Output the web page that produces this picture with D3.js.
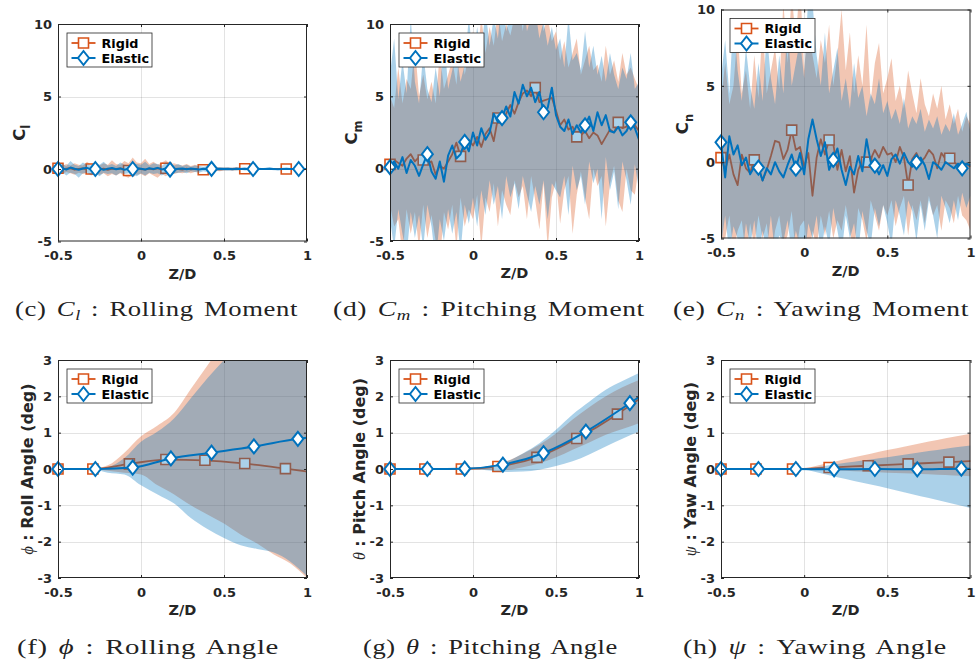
<!DOCTYPE html>
<html>
<head>
<meta charset="utf-8">
<script src="https://cdn.jsdelivr.net/npm/d3@7"></script>
<style>
  body { margin: 0; background: #fff; }
  svg { display: block; }
</style>
</head>
<body>
<svg id="fig" width="977" height="666"></svg>
<script>
// ---------- shared axes ----------
const xTicks = [-0.5, 0, 0.5, 1];
const momentTicks = [-5, 0, 5, 10];
const angleTicks = [-3, -2, -1, 0, 1, 2, 3];
const seriesNames = ["Rigid", "Elastic"];

// sample positions along Z/D for the moment histories (step 0.025)
const xGrid = d3.range(61).map(i => -0.5 + i * 0.025);
const rigidMarkerIdx = [0, 8, 17, 26, 35, 45, 55];
const elasticMarkerIdx = [0, 9, 18, 27, 37, 47, 58];

// ---------- C_l : rolling moment ----------
const clRigid = [
  0.05, -0.03, 0.02, 0.06, -0.05, 0.0, 0.04, -0.02, 0.0, 0.03,
  -0.04, 0.02, -0.06, 0.03, 0.0, 0.05, -0.03, -0.1, -0.02, 0.04,
  0.0, -0.05, 0.03, -0.02, 0.06, 0.0, 0.05, -0.03, 0.02, 0.0,
  -0.04, 0.02, -0.02, 0.01, 0.0, -0.05, -0.03, 0.0, 0.01, -0.02,
  0.0, 0.01, 0.0, 0.02, 0.0, 0.02, 0.0, 0.01, 0.0, 0.0,
  0.01, 0.0, 0.0, 0.0, 0.0, 0.0, 0.0, 0.0, 0.0, 0.0,
  0.0];
const clElastic = [
  0.0, 0.06, -0.04, 0.1, 0.02, -0.05, 0.03, 0.08, -0.03, 0.0,
  0.05, -0.06, 0.02, 0.07, -0.02, 0.04, -0.05, 0.02, 0.0, 0.06,
  0.02, -0.04, 0.05, 0.0, 0.08, -0.03, 0.03, -0.05, -0.04, 0.02,
  0.04, -0.02, 0.03, 0.0, -0.03, 0.02, 0.0, 0.01, -0.02, 0.02,
  0.0, 0.01, -0.01, 0.02, 0.0, 0.01, 0.0, 0.0, 0.01, 0.0,
  0.0, 0.01, 0.0, -0.01, 0.0, 0.01, 0.0, 0.0, 0.0, 0.0,
  0.0];
const clRigidHi = [
  0.3, 0.2, 0.35, 0.25, 0.4, 0.3, 0.25, 0.5, 0.3, 0.35,
  0.25, 0.4, 0.3, 0.6, 0.35, 0.3, 0.55, 0.4, 0.8, 0.45,
  0.4, 0.7, 0.35, 0.5, 0.3, 0.45, 0.6, 0.35, 0.4, 0.3,
  0.25, 0.35, 0.2, 0.3, 0.2, 0.25, 0.15, 0.2, 0.15, 0.12,
  0.1, 0.12, 0.08, 0.1, 0.08, 0.1, 0.06, 0.08, 0.05, 0.06,
  0.05, 0.06, 0.04, 0.05, 0.04, 0.05, 0.04, 0.04, 0.03, 0.04,
  0.03];
const clRigidLo = [
  -0.25, -0.35, -0.2, -0.3, -0.4, -0.25, -0.35, -0.3, -0.45, -0.3,
  -0.4, -0.3, -0.5, -0.35, -0.45, -0.3, -0.5, -0.6, -0.35, -0.4,
  -0.35, -0.5, -0.3, -0.45, -0.6, -0.35, -0.5, -0.3, -0.35, -0.25,
  -0.3, -0.2, -0.3, -0.2, -0.15, -0.25, -0.2, -0.15, -0.12, -0.15,
  -0.1, -0.08, -0.12, -0.08, -0.1, -0.06, -0.08, -0.06, -0.05, -0.06,
  -0.05, -0.04, -0.05, -0.04, -0.05, -0.03, -0.04, -0.03, -0.04, -0.03,
  -0.03];
const clElasticHi = [
  0.25, 0.35, 0.2, 0.55, 0.3, 0.2, 0.45, 0.3, 0.25, 0.4,
  0.3, 0.5, 0.25, 0.35, 0.2, 0.45, 0.3, 0.25, 0.4, 0.35,
  0.3, 0.5, 0.25, 0.4, 0.35, 0.2, 0.45, 0.3, 0.25, 0.35,
  0.2, 0.3, 0.15, 0.25, 0.2, 0.15, 0.2, 0.12, 0.15, 0.1,
  0.12, 0.08, 0.1, 0.12, 0.08, 0.1, 0.06, 0.1, 0.08, 0.06,
  0.08, 0.12, 0.06, 0.05, 0.08, 0.05, 0.06, 0.04, 0.05, 0.04,
  0.04];
const clElasticLo = [
  -0.3, -0.2, -0.45, -0.25, -0.35, -0.6, -0.3, -0.25, -0.4, -0.3,
  -0.5, -0.25, -0.35, -0.3, -0.45, -0.25, -0.35, -0.3, -0.4, -0.5,
  -0.3, -0.45, -0.25, -0.35, -0.3, -0.45, -0.3, -0.4, -0.3, -0.25,
  -0.2, -0.3, -0.15, -0.2, -0.25, -0.15, -0.2, -0.1, -0.15, -0.1,
  -0.1, -0.12, -0.08, -0.1, -0.06, -0.1, -0.08, -0.06, -0.08, -0.05,
  -0.06, -0.05, -0.08, -0.04, -0.05, -0.06, -0.04, -0.05, -0.04, -0.04,
  -0.04];

// ---------- C_m : pitching moment ----------
const cmRigid = [
  0.3, 0.6, 0.4, 0.2, 0.7, 1.0, 0.5, 0.8, 0.6, 0.4,
  0.5, -0.4, 0.2, 0.0, 0.5, 1.0, 1.8, 0.85, 1.5, 2.0,
  1.6, 2.2, 1.5, 2.4, 2.8, 1.9, 3.5, 3.4, 3.8, 4.4,
  3.8, 4.6, 5.2, 5.4, 5.0, 5.6, 4.6, 4.7, 4.8, 4.9,
  4.0, 3.0, 3.4, 2.7, 2.9, 2.2, 2.3, 2.6, 2.1, 2.5,
  2.3, 1.7, 2.2, 2.7, 2.5, 3.2, 2.8, 2.9, 3.6, 3.0,
  2.6];
const cmElastic = [
  0.1, 0.5, 0.0, 0.8, -0.3, 0.6, 0.2, -0.5, 0.3, 1.0,
  -0.2, -0.7, 0.5, -0.9, 0.9, 1.6, 0.7, 1.0, 1.85, 1.2,
  2.5, 1.6, 2.8, 2.0, 2.5, 3.8, 3.2, 3.5, 4.3, 3.6,
  5.3, 4.5, 5.8, 5.0, 5.6, 4.6, 5.3, 3.9, 4.2, 5.6,
  3.7, 2.9, 2.6, 3.4, 2.4, 3.0, 2.5, 3.0, 3.6, 2.6,
  3.9, 3.0, 3.7, 2.6, 2.5, 2.9, 2.3, 2.6, 3.2, 2.8,
  2.0];
const cmRigidHi = [
  5.0, 4.2, 7.0, 4.5, 6.2, 5.5, 8.5, 5.0, 6.5, 4.8,
  6.0, 4.5, 8.0, 5.5, 6.5, 7.5, 5.8, 9.0, 6.5, 8.0,
  9.5, 7.5, 10.5, 8.0, 9.8, 8.5, 11.0, 8.8, 10.0, 9.2,
  10.5, 11.5, 9.5, 12.0, 10.0, 10.8, 11.5, 9.5, 10.5, 8.8,
  9.5, 7.5, 8.8, 7.0, 8.0, 9.0, 6.5, 7.5, 8.5, 6.8,
  7.2, 6.0, 8.5, 6.5, 7.5, 6.0, 8.0, 6.5, 7.0, 6.2,
  5.5];
const cmRigidLo = [
  -2.5, -4.0, -3.5, -6.0, -2.8, -4.5, -3.0, -5.5, -2.5, -4.8,
  -3.2, -5.0, -6.5, -3.0, -4.2, -2.5, -5.5, -2.0, -4.0, -2.8,
  -3.5, -1.8, -5.5, -2.0, -3.0, -1.0, -4.0, -1.5, -2.5, -3.2,
  -0.8, -2.0, -1.2, -3.5, -0.5, -2.2, -4.2, -1.0, -5.5, -2.0,
  -0.8, -3.8, -1.5, -0.5, -4.5, -1.8, -0.2, -2.0, -3.5, 0.0,
  -1.2, -0.5, -4.0, -1.0, 0.2, -2.2, -3.0, 0.0, -1.5, -1.8,
  0.2];
const cmElasticHi = [
  6.5, 9.0, 4.8, 7.5, 5.2, 10.5, 6.0, 4.5, 8.0, 5.5,
  4.6, 7.0, 5.0, 9.5, 5.5, 6.8, 8.0, 6.0, 7.2, 10.5,
  7.5, 9.8, 8.0, 11.0, 8.5, 10.5, 9.0, 12.0, 9.5, 10.8,
  11.5, 10.0, 12.0, 9.5, 10.5, 11.0, 9.0, 10.2, 8.5, 9.8,
  8.2, 9.0, 7.0, 10.5, 7.5, 8.0, 6.8, 9.5, 7.0, 8.5,
  6.5, 7.8, 6.0, 8.0, 6.5, 5.5, 7.0, 6.2, 8.0, 5.5,
  6.0];
const cmElasticLo = [
  -3.5, -5.5, -2.8, -4.5, -6.0, -3.0, -4.8, -3.2, -5.5, -2.5,
  -4.0, -6.5, -3.5, -5.0, -2.8, -4.5, -3.0, -5.8, -2.5, -3.8,
  -2.0, -4.0, -1.5, -3.2, -0.8, -2.5, -1.2, -3.5, -0.5, -2.0,
  -1.0, -2.8, -0.5, -1.8, -3.0, -1.2, -2.5, -0.8, -3.5, -1.0,
  -1.5, -2.0, -0.5, -3.2, 0.2, -1.5, -0.5, -2.5, 0.5, -1.0,
  0.0, -3.5, 0.8, -1.5, -0.2, -2.8, 0.5, -0.8, -2.5, 0.3,
  -1.5];

// ---------- C_n : yawing moment ----------
const cnRigid = [
  0.3, -0.5, 0.5, -0.8, -1.5, 0.5, -0.4, -0.7, 0.15, -0.3,
  -1.2, -0.5, 0.4, 1.4, 1.3, 0.2, 0.8, 2.1, 0.8, 1.0,
  -0.3, 0.6, -2.2, 0.3, 1.5, 0.5, 1.45, 1.2, -0.5, 0.8,
  -0.6, 0.4, -2.0, -0.5, 0.1, 0.0, 0.2, 0.8, 0.3, 1.0,
  0.5, 0.6, 0.0, 1.0, 0.3, -1.5, 0.2, 0.6, 0.0, 0.3,
  0.8, 0.5, -0.4, 0.6, 0.2, 0.26, 0.0, -0.2, -0.3, -0.1,
  -0.3];
const cnElastic = [
  1.3, -1.0, 1.7, 0.5, 1.1, -0.2, 0.3, -0.8, -0.3, -0.35,
  -1.2, -0.4, -0.8, 0.0, -0.6, -1.0, -0.2, 0.5, -0.43, 0.6,
  -0.8, 1.5, 2.8, 1.5, 0.4, 1.3, -0.5, 0.15, 0.9, -0.5,
  -1.5, -0.3, -0.8, 0.4, -0.6, 1.5, 0.0, -0.22, -0.8, -0.2,
  -0.9, 0.2, 0.5, -0.1, 0.6, 0.0, -0.3, 0.0, 0.3, -0.2,
  -1.1, 0.0, -0.2, -0.5, 0.0, -0.2, -0.4, -0.1, -0.4, -0.1,
  -0.2];
const cnRigidHi = [
  4.0, 6.5, 3.8, 5.0, 8.5, 4.5, 6.0, 3.5, 7.0, 4.2,
  9.0, 4.5, 6.0, 7.5, 4.8, 10.5, 6.5, 11.0, 8.0, 12.0,
  6.0, 9.5, 7.0, 5.5, 8.0, 6.5, 9.0, 5.0, 7.0, 10.0,
  6.0, 8.5, 4.5, 7.0, 5.0, 9.0, 4.0, 6.5, 7.8, 4.5,
  5.5, 6.8, 4.0, 5.0, 3.5, 6.0, 4.5, 3.2, 5.5, 3.8,
  3.0, 4.5, 3.5, 5.0, 2.8, 3.8, 2.5, 3.5, 2.0, 3.0,
  2.5];
const cnRigidLo = [
  -6.0, -5.0, -3.5, -5.8, -4.5, -3.8, -6.2, -4.0, -5.5, -3.5,
  -5.0, -4.0, -6.5, -4.5, -3.5, -5.5, -4.8, -3.2, -6.0, -4.2,
  -3.8, -6.5, -4.5, -5.5, -3.5, -4.8, -3.2, -5.0, -3.8, -4.5,
  -2.8, -4.5, -6.0, -3.0, -3.8, -5.2, -2.5, -3.5, -4.5, -2.8,
  -3.5, -2.5, -4.2, -3.0, -2.2, -4.8, -2.8, -3.8, -2.5, -4.0,
  -2.2, -3.5, -2.8, -4.5, -2.5, -3.0, -4.0, -2.2, -3.5, -3.8,
  -4.5];
const cnElasticHi = [
  5.5, 8.0, 4.5, 9.5, 6.0, 4.0, 7.5, 5.0, 3.5, 6.5,
  4.0, 8.5, 5.5, 3.8, 7.0, 4.5, 9.0, 5.0, 6.5, 8.0,
  5.5, 11.0, 10.5, 7.0, 5.0, 8.5, 4.5, 6.0, 7.5, 4.0,
  5.5, 3.5, 6.5, 4.2, 5.0, 3.0, 4.5, 3.8, 5.5, 3.2,
  4.0, 2.8, 3.5, 2.5, 4.2, 2.2, 3.0, 2.5, 3.5, 2.0,
  2.8, 2.2, 3.0, 1.8, 2.5, 2.0, 3.2, 1.8, 2.5, 3.3,
  2.0];
const cnElasticLo = [
  -5.5, -3.5, -6.0, -4.2, -5.0, -6.5, -4.0, -5.5, -3.8, -6.0,
  -4.5, -5.8, -3.5, -6.0, -4.8, -5.2, -3.8, -6.0, -4.5, -5.5,
  -6.5, -4.0, -5.0, -3.5, -6.0, -4.2, -5.5, -3.0, -4.5, -6.0,
  -3.5, -5.0, -4.0, -6.0, -3.2, -4.5, -5.5, -3.0, -4.2, -2.8,
  -4.0, -5.5, -2.5, -3.5, -4.8, -2.5, -3.2, -5.2, -2.8, -4.5,
  -2.5, -3.5, -5.0, -2.2, -3.0, -4.0, -2.5, -3.8, -2.0, -3.0,
  -2.2];

// ---------- attitude angles (deg) ----------
// curve knots; the first seven carry markers
const rigidKnotX = [-0.5, -0.29, -0.07, 0.15, 0.385, 0.625, 0.87, 1.0];
const elasticKnotX = [-0.5, -0.275, -0.05, 0.18, 0.425, 0.68, 0.945, 1.0];
const angleMarkerIdx = [0, 1, 2, 3, 4, 5, 6];
const bandX = [-0.5, -0.4, -0.3, -0.2, -0.1, 0, 0.1, 0.2, 0.3, 0.4, 0.5, 0.6, 0.7, 0.8, 0.9, 1.0];

const rollRigid = [0, 0, 0.14, 0.26, 0.24, 0.15, 0.01, -0.07];
const rollElastic = [0, 0, 0.04, 0.29, 0.45, 0.62, 0.83, 0.86];
const rollRigidHi = [0, 0, 0, 0.1, 0.45, 0.9, 1.2, 1.55, 2.2, 2.85, 3.5, 4.1, 4.6, 5.0, 5.4, 5.8];
const rollRigidLo = [0, 0, 0, -0.05, -0.1, -0.15, -0.45, -0.7, -1.0, -1.25, -1.5, -1.8, -2.05, -2.35, -2.6, -3.0];
const rollElasticHi = [0, 0, 0, 0.05, 0.3, 0.75, 1.03, 1.4, 1.95, 2.5, 3.0, 3.5, 3.9, 4.3, 4.7, 5.0];
const rollElasticLo = [0, 0, 0, -0.1, -0.15, -0.45, -0.7, -0.95, -1.35, -1.65, -1.9, -2.1, -2.2, -2.3, -2.55, -2.95];

const pitchRigid = [0, 0, 0, 0.07, 0.32, 0.84, 1.51, 1.92];
const pitchElastic = [0, 0, 0.01, 0.12, 0.44, 1.03, 1.81, 1.98];
const pitchRigidHi = [0, 0, 0, 0, 0, 0.01, 0.08, 0.21, 0.42, 0.67, 0.98, 1.36, 1.7, 2.0, 2.25, 2.45];
const pitchRigidLo = [0, 0, 0, 0, 0, -0.01, -0.02, -0.02, 0.05, 0.16, 0.32, 0.53, 0.73, 0.94, 1.1, 1.26];
const pitchElasticHi = [0, 0, 0, 0, 0, 0.01, 0.08, 0.2, 0.43, 0.71, 1.08, 1.5, 1.85, 2.18, 2.42, 2.64];
const pitchElasticLo = [0, 0, 0, 0, 0, -0.01, -0.04, -0.08, -0.07, -0.02, 0.08, 0.21, 0.4, 0.62, 0.83, 1.03];

const yawRigid = [0, 0, 0, 0.04, 0.09, 0.14, 0.19, 0.22];
const yawElastic = [0, 0, 0, -0.01, 0, -0.01, 0.01, 0.01];
const yawRigidHi = [0, 0, 0, 0, 0, 0.02, 0.12, 0.22, 0.32, 0.42, 0.52, 0.61, 0.71, 0.8, 0.89, 0.97];
const yawRigidLo = [0, 0, 0, 0, 0, -0.01, -0.02, -0.04, -0.06, -0.08, -0.1, -0.12, -0.14, -0.16, -0.18, -0.2];
const yawElasticHi = [0, 0, 0, 0, 0, 0.01, 0.07, 0.14, 0.2, 0.26, 0.32, 0.39, 0.46, 0.52, 0.59, 0.65];
const yawElasticLo = [0, 0, 0, 0, 0, -0.02, -0.12, -0.23, -0.33, -0.43, -0.53, -0.64, -0.75, -0.85, -0.96, -1.07];

// ---------- styling ----------
const RIGID = "#D95319", ELASTIC = "#0072BD", INK = "#262626";
const SANS = "'DejaVu Sans', Verdana, sans-serif";
const SERIF = "'Liberation Serif', 'Times New Roman', serif";
const squarePath = "M-5,-5H5V5H-5Z";
const diamondPath = "M0,-7L5.5,0L0,7L-5.5,0Z";

const svg = d3.select("#fig");
const defs = svg.append("defs");

function moment(id, box, ylab, sub, caption, capBox, rr, re) {
  return { id, box, kind: "moment", yDomain: [-5, 10], yTicks: momentTicks, ylab, sub, caption, capBox,
    rigid: { bx: xGrid, lo: rr[1], hi: rr[2], lx: xGrid, ly: rr[0], mIdx: rigidMarkerIdx },
    elastic: { bx: xGrid, lo: re[1], hi: re[2], lx: xGrid, ly: re[0], mIdx: elasticMarkerIdx } };
}
function angle(id, box, sym, ylab, caption, capBox, rr, re) {
  return { id, box, kind: "angle", yDomain: [-3, 3], yTicks: angleTicks, sym, ylab, caption, capBox,
    rigid: { bx: bandX, lo: rr[1], hi: rr[2], lx: rigidKnotX, ly: rr[0], mIdx: angleMarkerIdx },
    elastic: { bx: bandX, lo: re[1], hi: re[2], lx: elasticKnotX, ly: re[0], mIdx: angleMarkerIdx } };
}

const panels = [
  moment("c", { l: 58, r: 307, t: 24, b: 241.5 }, "C", "l", ["(c) ", "C", "l", " : Rolling Moment"], { cx: 156.5, y: 316, w: 283 },
    [clRigid, clRigidLo, clRigidHi], [clElastic, clElasticLo, clElasticHi]),
  moment("d", { l: 390, r: 639, t: 24, b: 241 }, "C", "m", ["(d) ", "C", "m", " : Pitching Moment"], { cx: 489, y: 316, w: 312 },
    [cmRigid, cmRigidLo, cmRigidHi], [cmElastic, cmElasticLo, cmElasticHi]),
  moment("e", { l: 721, r: 970.5, t: 9.5, b: 238.5 }, "C", "n", ["(e) ", "C", "n", " : Yawing Moment"], { cx: 821, y: 316, w: 296 },
    [cnRigid, cnRigidLo, cnRigidHi], [cnElastic, cnElasticLo, cnElasticHi]),
  angle("f", { l: 58, r: 307, t: 360, b: 578 }, "ϕ", "Roll Angle (deg)", ["(f) ", "ϕ", "", " : Rolling Angle"], { cx: 148, y: 654, w: 262 },
    [rollRigid, rollRigidLo, rollRigidHi], [rollElastic, rollElasticLo, rollElasticHi]),
  angle("g", { l: 390, r: 639, t: 360, b: 578 }, "θ", "Pitch Angle (deg)", ["(g) ", "θ", "", " : Pitching Angle"], { cx: 490.5, y: 654, w: 255 },
    [pitchRigid, pitchRigidLo, pitchRigidHi], [pitchElastic, pitchElasticLo, pitchElasticHi]),
  angle("h", { l: 721, r: 970.5, t: 360, b: 578 }, "ψ", "Yaw Angle (deg)", ["(h) ", "ψ", "", " : Yawing Angle"], { cx: 815, y: 654, w: 264 },
    [yawRigid, yawRigidLo, yawRigidHi], [yawElastic, yawElasticLo, yawElasticHi])
];

function drawPanel(p) {
  const { l, r, t, b } = p.box;
  const x = d3.scaleLinear().domain([-0.5, 1]).range([l, r]);
  const y = d3.scaleLinear().domain(p.yDomain).range([b, t]);
  const curve = p.kind === "angle" ? d3.curveMonotoneX : d3.curveLinear;
  const g = svg.append("g").attr("class", "panel-" + p.id);

  const clipId = "clip-" + p.id;
  defs.append("clipPath").attr("id", clipId)
    .append("rect").attr("x", l).attr("y", t).attr("width", r - l).attr("height", b - t);

  // grid
  const grid = g.append("g").attr("stroke", INK).attr("stroke-opacity", 0.13).attr("stroke-width", 1);
  grid.selectAll(".gx").data(xTicks.slice(1, -1)).join("line")
    .attr("x1", d => Math.round(x(d)) + 0.5).attr("x2", d => Math.round(x(d)) + 0.5).attr("y1", t).attr("y2", b);
  grid.selectAll(".gy").data(p.yTicks.slice(1, -1)).join("line")
    .attr("y1", d => Math.round(y(d)) + 0.5).attr("y2", d => Math.round(y(d)) + 0.5).attr("x1", l).attr("x2", r);

  const styles = [
    { s: p.rigid, color: RIGID, lw: 1.8, shape: squarePath, mw: 1.6 },
    { s: p.elastic, color: ELASTIC, lw: 2, shape: diamondPath, mw: 2 }
  ];
  styles.forEach(({ s, color, lw, shape, mw }) => {
    const clipped = g.append("g").attr("clip-path", `url(#${clipId})`);
    const area = d3.area().x(i => x(s.bx[i])).y0(i => y(s.lo[i])).y1(i => y(s.hi[i])).curve(curve);
    clipped.append("path").attr("d", area(d3.range(s.bx.length)))
      .attr("fill", color).attr("fill-opacity", 0.33).attr("stroke", "none");
    const line = d3.line().x(i => x(s.lx[i])).y(i => y(s.ly[i])).curve(curve);
    clipped.append("path").attr("d", line(d3.range(s.lx.length)))
      .attr("fill", "none").attr("stroke", color).attr("stroke-width", lw).attr("stroke-linejoin", "round");
    g.append("g").selectAll("path").data(s.mIdx).join("path")
      .attr("transform", i => `translate(${x(s.lx[i])},${y(s.ly[i])})`)
      .attr("d", shape).attr("fill", "#fff").attr("stroke", color).attr("stroke-width", mw);
  });

  // axes (ticks point inward, labels on left/bottom only)
  const fmt = d => String(d);
  const axB = g.append("g").attr("transform", `translate(0,${b})`)
    .call(d3.axisBottom(x).tickValues(xTicks).tickSize(-3).tickFormat(fmt));
  const axT = g.append("g").attr("transform", `translate(0,${t})`)
    .call(d3.axisTop(x).tickValues(xTicks).tickSize(-3).tickFormat(""));
  const axL = g.append("g").attr("transform", `translate(${l},0)`)
    .call(d3.axisLeft(y).tickValues(p.yTicks).tickSize(-3).tickFormat(fmt));
  const axR = g.append("g").attr("transform", `translate(${r},0)`)
    .call(d3.axisRight(y).tickValues(p.yTicks).tickSize(-3).tickFormat(""));
  [axB, axT, axL, axR].forEach(a => {
    a.select(".domain").remove();
    a.selectAll("line").attr("stroke", INK);
    a.selectAll("text").attr("fill", INK).style("font-family", SANS).style("font-weight", "bold").style("font-size", "13px");
  });
  axB.selectAll("text").attr("y", 18.5).attr("dy", "0");
  axL.selectAll("text").attr("x", -6).attr("dy", "0.32em");

  g.append("rect").attr("x", l + 0.5).attr("y", t + 0.5).attr("width", r - l - 1).attr("height", b - t - 1)
    .attr("fill", "none").attr("stroke", INK).attr("stroke-width", 1);

  // axis titles
  g.append("text").attr("x", (l + r) / 2).attr("y", b + 37).attr("text-anchor", "middle")
    .attr("fill", INK).style("font-family", SANS).style("font-weight", "bold").style("font-size", "14.5px").text("Z/D");

  const ym = (t + b) / 2;
  if (p.kind === "moment") {
    const yl = g.append("text").attr("transform", `translate(${l - 33},${ym}) rotate(-90)`).attr("text-anchor", "middle")
      .attr("fill", INK).style("font-family", SANS).style("font-weight", "bold").style("font-size", "16.5px");
    yl.append("tspan").text(p.ylab);
    yl.append("tspan").attr("dy", 5).style("font-size", "11.5px").text(p.sub);
  } else {
    const yl = g.append("text").attr("transform", `translate(${l - 25},${ym}) rotate(-90)`).attr("text-anchor", "middle")
      .attr("fill", INK).style("font-family", SANS).style("font-weight", "bold").style("font-size", "16px");
    yl.append("tspan").style("font-family", SERIF).style("font-style", "italic").style("font-weight", "normal").text(p.sym);
    yl.append("tspan").text(" : " + p.ylab);
  }

  // legend
  const lx0 = l + 8.5, ly0 = t + 8.5;
  const lg = g.append("g").attr("transform", `translate(${lx0},${ly0})`);
  lg.append("rect").attr("x", 0.5).attr("y", 0.5).attr("width", 85).attr("height", 34)
    .attr("fill", "#fff").attr("stroke", INK).attr("stroke-width", 0.8);
  styles.forEach(({ color, lw, shape, mw }, k) => {
    const ry = 10.5 + k * 15;
    lg.append("line").attr("x1", 5).attr("x2", 29).attr("y1", ry).attr("y2", ry).attr("stroke", color).attr("stroke-width", lw);
    lg.append("path").attr("transform", `translate(17,${ry})`).attr("d", shape).attr("fill", "#fff").attr("stroke", color).attr("stroke-width", mw);
    lg.append("text").attr("x", 35).attr("y", ry).attr("dy", "0.36em").attr("fill", "#000")
      .style("font-family", SANS).style("font-weight", "bold").style("font-size", "12.8px").text(seriesNames[k]);
  });

  // caption, widened to its slot
  const cg = svg.append("g");
  const ct = cg.append("text").attr("x", 0).attr("y", 0).attr("text-anchor", "middle").attr("fill", "#222")
    .style("font-family", SERIF).style("font-size", "22px")
    .style("letter-spacing", "0.5px").style("word-spacing", "2.5px");
  const [pre, sym, sub, post] = p.caption;
  ct.append("tspan").text(pre);
  ct.append("tspan").style("font-style", "italic").text(sym);
  if (sub) {
    ct.append("tspan").style("font-style", "italic").style("font-size", "15px").attr("dy", 4).text(sub);
    ct.append("tspan").attr("dy", -4).text(post);
  } else {
    ct.append("tspan").text(post);
  }
  const natural = ct.node().getComputedTextLength();
  const sx = natural > 0 ? p.capBox.w / natural : 1;
  cg.attr("transform", `translate(${p.capBox.cx},${p.capBox.y}) scale(${sx},1)`);
}

panels.forEach(drawPanel);
</script>
</body>
</html>
